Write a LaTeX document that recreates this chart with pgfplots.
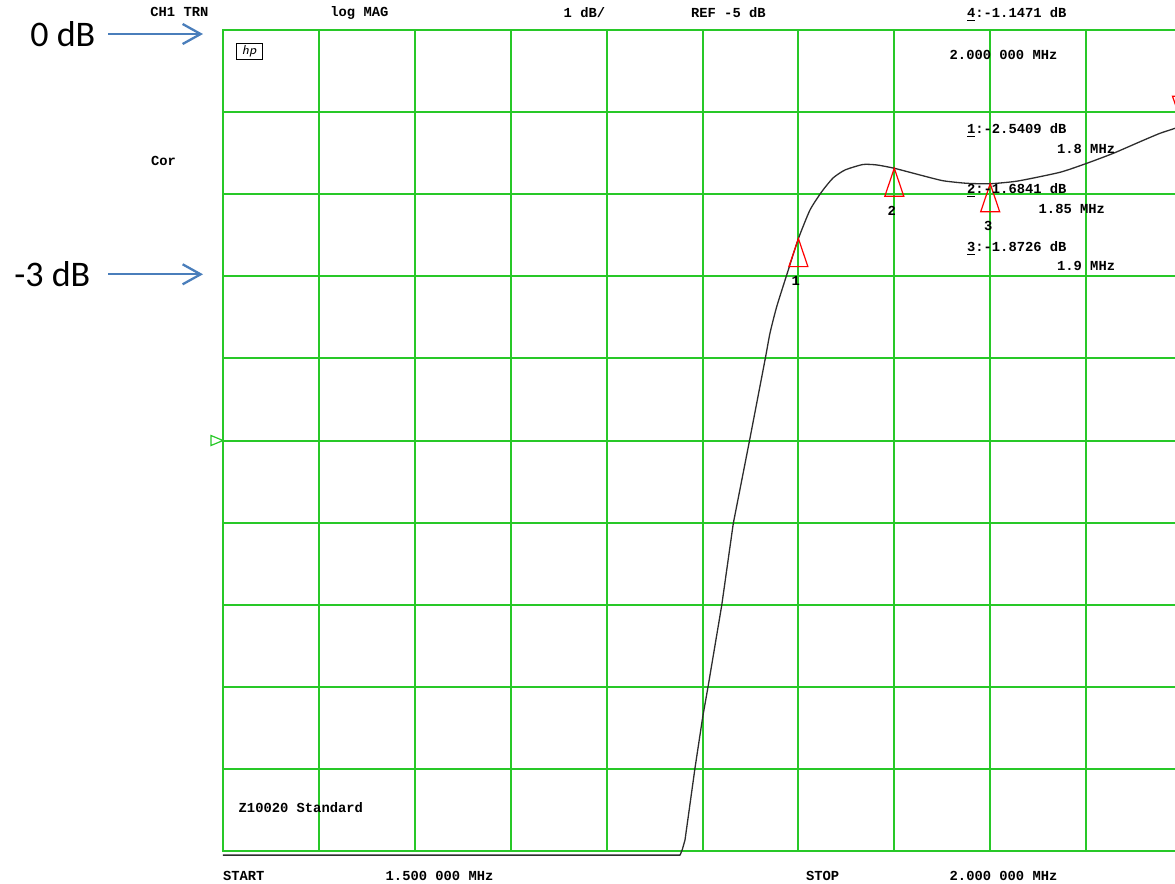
\documentclass[border=0pt]{standalone}
\usepackage{pgfplots}
\pgfplotsset{compat=1.18}
\usetikzlibrary{arrows.meta}
\usepackage{fontspec}
\setmainfont{Liberation Sans}
\newfontfamily\hpmono{Liberation Mono}
\newfontfamily\calfont{Carlito}
\definecolor{gridgreen}{RGB}{40,200,40}
\definecolor{arrowblue}{RGB}{74,126,187}
\definecolor{tracecol}{RGB}{45,45,45}
\newcommand\hp{\hpmono\bfseries\fontsize{6.9}{8}\selectfont}
\pgfdeclareplotmark{mkup}{%
  \pgfpathmoveto{\pgfpointorigin}%
  \pgfpathlineto{\pgfpoint{-4.75pt}{-14pt}}%
  \pgfpathlineto{\pgfpoint{4.75pt}{-14pt}}%
  \pgfpathclose\pgfusepathqstroke}
\pgfdeclareplotmark{mkdown}{%
  \pgfpathmoveto{\pgfpointorigin}%
  \pgfpathlineto{\pgfpoint{-4.75pt}{14pt}}%
  \pgfpathlineto{\pgfpoint{4.75pt}{14pt}}%
  \pgfpathclose\pgfusepathqstroke}
\pgfdeclareplotmark{mkref}{%
  \pgfpathmoveto{\pgfpointorigin}%
  \pgfpathlineto{\pgfpoint{-6pt}{2.5pt}}%
  \pgfpathlineto{\pgfpoint{-6pt}{-2.5pt}}%
  \pgfpathclose\pgfusepathqstroke}
\begin{document}
\begin{tikzpicture}
\begin{axis}[
  at={(111.5pt,-425.5pt)}, anchor=south west,
  scale only axis, width=479.5pt, height=410.5pt,
  xmin=1.5, xmax=2.0, ymin=-10, ymax=0,
  xtick={1.5,1.55,1.6,1.65,1.7,1.75,1.8,1.85,1.9,1.95,2.0},
  ytick={-10,-9,-8,-7,-6,-5,-4,-3,-2,-1,0},
  xticklabels={}, yticklabels={},
  major tick length=0pt,
  grid=major,
  major grid style={gridgreen, line width=1pt},
  axis line style={gridgreen, line width=1pt},
  clip=false,
]
% lower part of trace: flat floor and steep rise
\addplot[tracecol, line width=0.65pt, mark=none, line join=round] coordinates {
(1.5,-10.05) (1.7383,-10.05) (1.7395,-9.98) (1.74088,-9.866) (1.74609,-8.989) (1.75011,-8.368)
(1.75287,-8.002) (1.76001,-7.010) (1.76606,-6.009) (1.77440,-5.015)
};
% upper part of trace
\addplot[tracecol, line width=0.65pt, mark=none, smooth, tension=0.35] coordinates {
(1.77440,-5.015) (1.78259,-4.019)
(1.78520,-3.691) (1.78869,-3.370) (1.79390,-2.984) (1.8,-2.5409) (1.80605,-2.192)
(1.81215,-1.970) (1.81804,-1.803) (1.82430,-1.705) (1.83368,-1.638) (1.84098,-1.644)
(1.85,-1.6841) (1.86340,-1.766) (1.87539,-1.836) (1.88775,-1.867) (1.9,-1.8726)
(1.91450,-1.839) (1.93640,-1.733) (1.95032,-1.624) (1.96418,-1.502) (1.97810,-1.361)
(1.98853,-1.258) (1.99635,-1.197) (2.0,-1.1471)
};
\addplot[red, line width=0.6pt, only marks, mark=mkup] coordinates {(1.8,-2.5409) (1.85,-1.6841) (1.9,-1.8726)};
\addplot[red, line width=0.6pt, only marks, mark=mkdown] coordinates {(2.0,-1.1471)};
\addplot[gridgreen, line width=0.6pt, only marks, mark=mkref] coordinates {(1.5,-5)};
\node[font=\hp, anchor=base, inner sep=0pt, xshift=-1.3pt, yshift=-23.5pt] at (axis cs:1.8,-2.5409) {1};
\node[font=\hp, anchor=base, inner sep=0pt, xshift=-1.3pt, yshift=-23.5pt] at (axis cs:1.85,-1.6841) {2};
\node[font=\hp, anchor=base, inner sep=0pt, xshift=-1.0pt, yshift=-23.5pt] at (axis cs:1.9,-1.8726) {3};
\end{axis}
\begin{scope}[x=0.5pt, y=-0.5pt]
\tikzset{hpt/.style={font=\hp, anchor=base west, inner sep=0pt}}
\node[hpt] at (150,16.7) {CH1 TRN};
\node[hpt] at (330,16.7) {log MAG};
\node[hpt] at (563.3,17.3) {1 dB/};
\node[hpt] at (690.7,17.3) {REF -5 dB};
\node[hpt] at (966.7,17.3) {\underline{4}:-1.1471 dB};
\node[hpt] at (949.3,59.3) {2.000 000 MHz};
\node[hpt] at (966.7,133.3) {\underline{1}:-2.5409 dB};
\node[hpt] at (1056.7,153.3) {1.8 MHz};
\node[hpt] at (966.7,193.3) {\underline{2}:-1.6841 dB};
\node[hpt] at (1038.3,213.3) {1.85 MHz};
\node[hpt] at (966.7,251.7) {\underline{3}:-1.8726 dB};
\node[hpt] at (1056.7,270.7) {1.9 MHz};
\node[hpt] at (150.7,165.7) {Cor};
\node[hpt] at (238.3,812.3) {Z10020 Standard};
\node[hpt] at (222.7,880.7) {START};
\node[hpt] at (385.3,880.7) {1.500 000 MHz};
\node[hpt] at (805.7,880.7) {STOP};
\node[hpt] at (949.3,880.7) {2.000 000 MHz};
% hp logo
\draw[black, line width=0.4pt] (236,43) rectangle (262,59);
\node[font=\sffamily\itshape\fontsize{6.5}{6.5}\selectfont, inner sep=0pt] at (249,51) {hp};
% annotations
\node[font=\calfont\fontsize{18}{20}\selectfont, anchor=base west, inner sep=0pt] at (30,46.7) {0 dB};
\node[font=\calfont\fontsize{18}{20}\selectfont, anchor=base west, inner sep=0pt] at (14,286.7) {-3 dB};
\draw[arrowblue, line width=1.15pt, -{Straight Barb[length=9pt, width=10pt]}] (108,34) -- (203,34);
\draw[arrowblue, line width=1.15pt, -{Straight Barb[length=9pt, width=10pt]}] (108,274.3) -- (203,274.3);
\end{scope}
\pgfresetboundingbox
\path[use as bounding box] (0pt,0pt) rectangle (587.5pt,-442pt);
\end{tikzpicture}
\end{document}
